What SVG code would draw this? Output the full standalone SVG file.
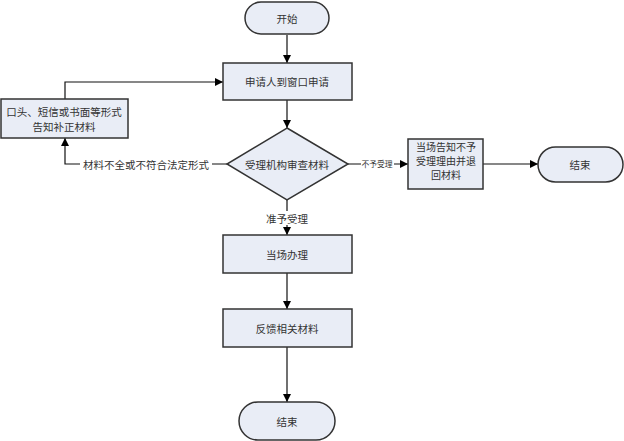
<svg xmlns="http://www.w3.org/2000/svg" width="624" height="441" viewBox="0 0 624 441">
<defs>
<marker id="ah" viewBox="0 0 10 10" refX="10" refY="5" markerWidth="8" markerHeight="8" markerUnits="userSpaceOnUse" orient="auto">
<path d="M0,0 L10,5 L0,10 z" fill="#000"/>
</marker>
<style>
.n{fill:#e9edf6;stroke:#333;stroke-width:1.5}
.t{font-family:"Noto Sans CJK SC","Liberation Sans",sans-serif;font-size:10.5px;fill:#333;text-anchor:middle;dominant-baseline:central}
.s{font-size:10px}
.c{fill:none;stroke:#111;stroke-width:1.2;marker-end:url(#ah)}
</style>
</defs>
<rect width="624" height="441" fill="#fff"/>
<g id="connectors">
<path class="c" d="M287,35 V63"/>
<path class="c" d="M287,100 V128"/>
<path class="c" d="M227,164 H65 V138"/>
<path class="c" d="M65,99 V82 H223"/>
<path class="c" d="M348,164 H408"/>
<path class="c" d="M483,164 H538"/>
<path class="c" d="M287,200 V235"/>
<path class="c" d="M287,273 V309"/>
<path class="c" d="M287,347 V402"/>
</g>
<g id="start"><rect class="n" x="245" y="2" width="84" height="32" rx="16"/><text class="t" x="287" y="18">开始</text></g>
<g id="apply"><rect class="n" x="223" y="63" width="129" height="37"/><text class="t" x="287" y="81">申请人到窗口申请</text></g>
<g id="notify"><rect class="n" x="1" y="99" width="127" height="39"/><text class="t" x="64" y="111">口头、短信或书面等形式</text><text class="t" x="64" y="126">告知补正材料</text></g>
<g id="review"><polygon class="n" points="287,128 348,164 287,200 227,164"/><text class="t" x="287" y="164">受理机构审查材料</text></g>
<g id="reject"><rect class="n" x="408" y="139" width="75" height="50"/><text class="t s" x="446" y="146">当场告知不予</text><text class="t s" x="446" y="160">受理理由并退</text><text class="t s" x="446" y="174">回材料</text></g>
<g id="end1"><rect class="n" x="538" y="147" width="85" height="35" rx="17.5"/><text class="t" x="580" y="164">结束</text></g>
<g id="handle"><rect class="n" x="223" y="235" width="129" height="38"/><text class="t" x="287" y="254">当场办理</text></g>
<g id="feedback"><rect class="n" x="223" y="309" width="129" height="38"/><text class="t" x="287" y="328">反馈相关材料</text></g>
<g id="end2"><rect class="n" x="239" y="402" width="96" height="38" rx="19"/><text class="t" x="287" y="421">结束</text></g>
<g id="labels">
<rect x="80" y="157" width="132" height="14" fill="#fff"/>
<text class="t" x="146" y="164">材料不全或不符合法定形式</text>
<rect x="361" y="158" width="33" height="12" fill="#fff"/>
<text class="t" x="377" y="163" style="font-size:7.8px">不予受理</text>
<rect x="264" y="211" width="46" height="14" fill="#fff"/>
<text class="t" x="287" y="218">准予受理</text>
</g>
</svg>
